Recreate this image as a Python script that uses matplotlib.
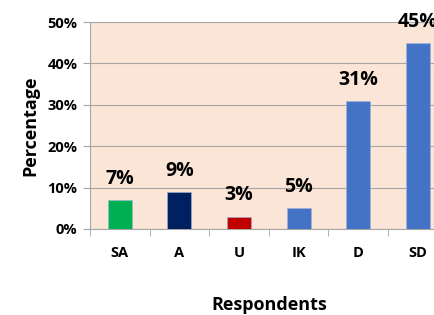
import matplotlib.pyplot as plt
import numpy as np

# survey responses
categories = ["SA", "A", "U", "IK", "D", "SD"]
values = [7, 9, 3, 5, 31, 45]
bar_colors = ["#00B050", "#002060", "#C00000", "#4472C4", "#4472C4", "#4472C4"]
yticks = [0, 10, 20, 30, 40, 50]

plt.rcParams['font.family'] = ['Open Sans', 'DejaVu Sans']

fig = plt.figure(figsize=(4.34, 3.15), dpi=100)
ax = fig.add_axes([90/434, 86/315, 357.6/434, 207/315])
ax.set_facecolor("#FBE5D6")

x = np.arange(len(categories))
ax.bar(x, values, width=0.4, color=bar_colors, edgecolor="#9DB4E0", linewidth=0.4, zorder=3)

for xi, v in zip(x, values):
    ax.annotate(f"{v}%", (xi, v), xytext=(0, 8), textcoords="offset points",
                ha="center", va="bottom", fontsize=14, fontweight="bold",
                annotation_clip=False)

ax.set_xlim(-0.5, len(categories) - 0.5)
ax.set_ylim(0, 50)
ax.set_yticks(yticks)
ax.set_yticklabels([f"{t}%" for t in yticks], fontsize=10.5, fontweight="bold")
ax.set_xticks(x)
ax.set_xticklabels(categories, fontsize=10.5, fontweight="bold")
ax.set_xticks(np.arange(-0.5, len(categories)), minor=True)
ax.tick_params(axis="x", which="major", length=0, pad=12)
ax.tick_params(axis="x", which="minor", length=5, color="#A6A6A6")
ax.tick_params(axis="y", length=5, color="#A6A6A6", pad=4)

ax.grid(axis="y", color="#A6A6A6", linewidth=0.8, zorder=0)
for s in ["top", "right"]:
    ax.spines[s].set_visible(False)
for s in ["left", "bottom"]:
    ax.spines[s].set_color("#A6A6A6")

ax.set_ylabel("Percentage", fontsize=13, fontweight="bold", labelpad=6)
ax.set_xlabel("Respondents", fontsize=13, fontweight="bold", labelpad=26)

fig.savefig("out.png", dpi=100)
